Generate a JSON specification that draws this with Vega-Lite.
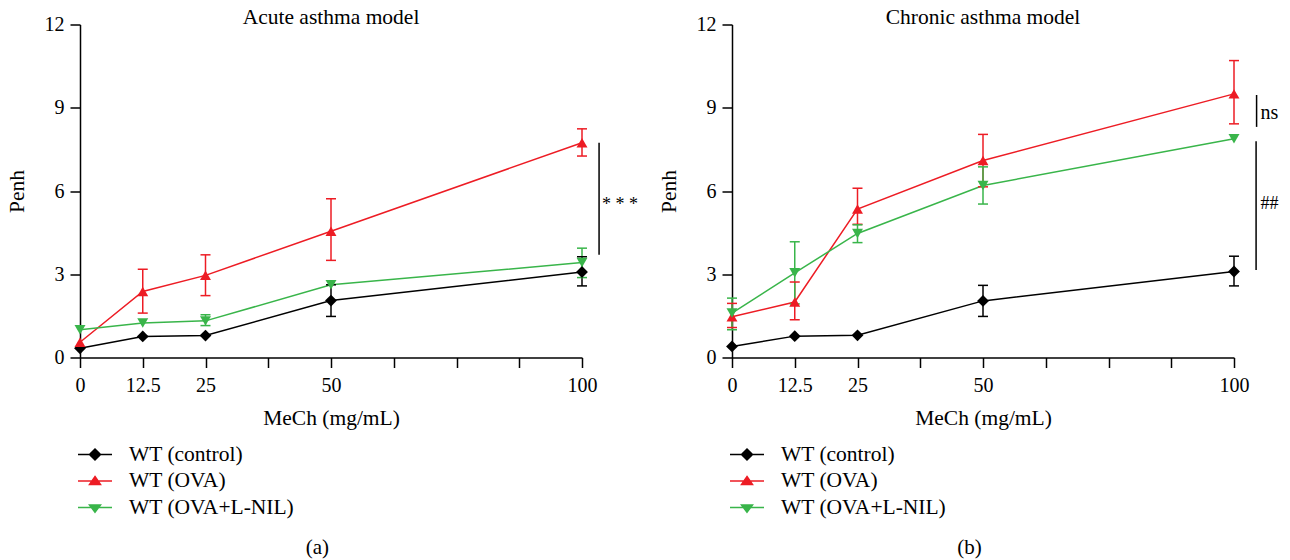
{
  "$schema": "https://vega.github.io/schema/vega-lite/v6.json",
  "background": "white",
  "padding": {"left": 6, "top": 6.5, "right": 5, "bottom": 5},
  "config": {
    "font": "Liberation Serif",
    "view": {"stroke": null},
    "axis": {"labelFont": "Liberation Serif", "titleFont": "Liberation Serif", "labelFontSize": 20, "titleFontSize": 21.5, "titleFontWeight": "normal", "labelColor": "black", "titleColor": "black", "domainColor": "black", "tickColor": "black", "domainWidth": 1.5, "tickWidth": 1.5, "tickSize": 10, "grid": false},
    "title": {"font": "Liberation Serif", "fontSize": 21.5, "fontWeight": "normal", "color": "black", "offset": -14},
    "text": {"font": "Liberation Serif"}
  },
  "datasets": {
    "d": [
      {"panel": "a", "group": "WT (control)", "dose": 0, "mean": 0.33, "lo": null, "hi": null},
      {"panel": "a", "group": "WT (control)", "dose": 12.5, "mean": 0.76, "lo": null, "hi": null},
      {"panel": "a", "group": "WT (control)", "dose": 25, "mean": 0.79, "lo": null, "hi": null},
      {"panel": "a", "group": "WT (control)", "dose": 50, "mean": 2.05, "lo": 1.48, "hi": 2.62},
      {"panel": "a", "group": "WT (control)", "dose": 100, "mean": 3.08, "lo": 2.58, "hi": 3.63},
      {"panel": "a", "group": "WT (OVA)", "dose": 0, "mean": 0.55, "lo": null, "hi": null},
      {"panel": "a", "group": "WT (OVA)", "dose": 12.5, "mean": 2.38, "lo": 1.6, "hi": 3.18},
      {"panel": "a", "group": "WT (OVA)", "dose": 25, "mean": 2.96, "lo": 2.23, "hi": 3.7},
      {"panel": "a", "group": "WT (OVA)", "dose": 50, "mean": 4.55, "lo": 3.5, "hi": 5.72},
      {"panel": "a", "group": "WT (OVA)", "dose": 100, "mean": 7.74, "lo": 7.26, "hi": 8.24},
      {"panel": "a", "group": "WT (OVA+L-NIL)", "dose": 0, "mean": 1.0, "lo": null, "hi": null},
      {"panel": "a", "group": "WT (OVA+L-NIL)", "dose": 12.5, "mean": 1.24, "lo": null, "hi": null},
      {"panel": "a", "group": "WT (OVA+L-NIL)", "dose": 25, "mean": 1.32, "lo": 1.15, "hi": 1.54},
      {"panel": "a", "group": "WT (OVA+L-NIL)", "dose": 50, "mean": 2.62, "lo": null, "hi": null},
      {"panel": "a", "group": "WT (OVA+L-NIL)", "dose": 100, "mean": 3.42, "lo": 2.88, "hi": 3.94},
      {"panel": "b", "group": "WT (control)", "dose": 0, "mean": 0.4, "lo": null, "hi": null},
      {"panel": "b", "group": "WT (control)", "dose": 12.5, "mean": 0.77, "lo": null, "hi": null},
      {"panel": "b", "group": "WT (control)", "dose": 25, "mean": 0.8, "lo": null, "hi": null},
      {"panel": "b", "group": "WT (control)", "dose": 50, "mean": 2.04, "lo": 1.48, "hi": 2.6},
      {"panel": "b", "group": "WT (control)", "dose": 100, "mean": 3.1, "lo": 2.58, "hi": 3.65},
      {"panel": "b", "group": "WT (OVA)", "dose": 0, "mean": 1.47, "lo": 1.08, "hi": 1.95},
      {"panel": "b", "group": "WT (OVA)", "dose": 12.5, "mean": 2.0, "lo": 1.36, "hi": 2.72},
      {"panel": "b", "group": "WT (OVA)", "dose": 25, "mean": 5.35, "lo": 4.8, "hi": 6.1},
      {"panel": "b", "group": "WT (OVA)", "dose": 50, "mean": 7.1, "lo": 6.15, "hi": 8.04},
      {"panel": "b", "group": "WT (OVA)", "dose": 100, "mean": 9.5, "lo": 8.42, "hi": 10.7},
      {"panel": "b", "group": "WT (OVA+L-NIL)", "dose": 0, "mean": 1.6, "lo": 1.0, "hi": 2.14},
      {"panel": "b", "group": "WT (OVA+L-NIL)", "dose": 12.5, "mean": 3.05, "lo": 1.93, "hi": 4.17},
      {"panel": "b", "group": "WT (OVA+L-NIL)", "dose": 25, "mean": 4.47, "lo": 4.14, "hi": 4.78},
      {"panel": "b", "group": "WT (OVA+L-NIL)", "dose": 50, "mean": 6.2, "lo": 5.53, "hi": 6.87},
      {"panel": "b", "group": "WT (OVA+L-NIL)", "dose": 100, "mean": 7.88, "lo": null, "hi": null}
    ],
    "ann": [
      {"panel": "a", "dose": 103.4, "y1": 7.74, "y2": 3.7, "tx": 104.0, "ty": 5.33, "label": "* * *", "fs": 18},
      {"panel": "b", "dose": 104.5, "y1": 9.46, "y2": 8.31, "tx": 105.3, "ty": 8.58, "label": "ns", "fs": 20},
      {"panel": "b", "dose": 104.4, "y1": 7.79, "y2": 3.15, "tx": 105.3, "ty": 5.34, "label": "##", "fs": 18}
    ],
    "cap": [
      {"panel": "a", "dose": 47.3, "y": -6.85, "label": "(a)"},
      {"panel": "b", "dose": 47.3, "y": -6.85, "label": "(b)"}
    ]
  },
  "spacing": 19,
  "resolve": {"scale": {"color": "independent"}, "legend": {"color": "independent"}},
  "hconcat": [
    {
      "width": 502, "height": 333,
      "title": "Acute asthma model",
      "encoding": {
        "x": {"field": "dose", "type": "quantitative", "title": "MeCh (mg/mL)", "scale": {"domain": [0, 100], "nice": false}, "axis": {"values": [0, 12.5, 25, 37.5, 50, 62.5, 75, 87.5, 100], "labelExpr": "indexof([0, 12.5, 25, 50, 100], datum.value) >= 0 ? toString(datum.value) : ''", "labelPadding": 8, "titlePadding": 12, "labelFlush": false}},
        "y": {"field": "mean", "type": "quantitative", "title": "Penh", "scale": {"domain": [0, 12], "nice": false}, "axis": {"values": [0, 3, 6, 9, 12], "labelPadding": 6, "titlePadding": 16}},
        "color": {"field": "group", "type": "nominal", "scale": {"domain": ["WT (control)", "WT (OVA)", "WT (OVA+L-NIL)"], "range": ["#000000", "#ed1c24", "#39b54a"]},
          "legend": {"title": null, "orient": "none", "legendX": 4, "legendY": 419, "symbolSize": 400, "symbolStrokeWidth": 1.5, "labelFont": "Liberation Serif", "labelFontSize": 21.5, "labelColor": "black", "labelOffset": 23, "rowPadding": 4.5, "padding": 0, "labelLimit": 400,
            "encode": {"symbols": {"update": {
              "shape": {"signal": "datum.value === 'WT (control)' ? 'M-1.7,0H1.7M0,-0.55L0.55,0L0,0.55L-0.55,0Z' : datum.value === 'WT (OVA)' ? 'M-1.7,0H1.7M0,-0.45L0.55,0.36L-0.55,0.36Z' : 'M-1.7,0H1.7M-0.55,-0.26L0.55,-0.26L0,0.48Z'"},
              "fill": {"signal": "datum.value === 'WT (control)' ? '#000000' : datum.value === 'WT (OVA)' ? '#ed1c24' : '#39b54a'"},
              "stroke": {"signal": "datum.value === 'WT (control)' ? '#000000' : datum.value === 'WT (OVA)' ? '#ed1c24' : '#39b54a'"},
              "strokeWidth": {"value": 1.5}, "opacity": {"value": 1}, "fillOpacity": {"value": 1}, "strokeOpacity": {"value": 1}}}}}}
      },
      "layer": [
        {"data": {"name": "d"}, "transform": [{"filter": "datum.panel == 'a'"}], "mark": {"type": "line", "strokeWidth": 1.5}},
        {"data": {"name": "d"}, "transform": [{"filter": "datum.panel == 'a' && isValid(datum.lo)"}], "mark": {"type": "rule", "strokeWidth": 1.5},
          "encoding": {"y": {"field": "lo", "type": "quantitative", "title": "Penh"}, "y2": {"field": "hi"}}},
        {"data": {"name": "d"}, "transform": [{"filter": "datum.panel == 'a' && isValid(datum.lo)"}], "mark": {"type": "point", "shape": "M-1,0H1", "size": 100, "filled": false, "strokeWidth": 1.5, "opacity": 1},
          "encoding": {"y": {"field": "lo", "type": "quantitative", "title": "Penh"}}},
        {"data": {"name": "d"}, "transform": [{"filter": "datum.panel == 'a' && isValid(datum.lo)"}], "mark": {"type": "point", "shape": "M-1,0H1", "size": 100, "filled": false, "strokeWidth": 1.5, "opacity": 1},
          "encoding": {"y": {"field": "hi", "type": "quantitative", "title": "Penh"}}},
        {"data": {"name": "d"}, "transform": [{"filter": "datum.panel == 'a' && datum.group == 'WT (control)'"}], "mark": {"type": "point", "shape": "diamond", "filled": true, "size": 140, "opacity": 1}},
        {"data": {"name": "d"}, "transform": [{"filter": "datum.panel == 'a' && datum.group == 'WT (OVA)'"}], "mark": {"type": "point", "shape": "triangle-up", "filled": true, "size": 120, "opacity": 1}},
        {"data": {"name": "d"}, "transform": [{"filter": "datum.panel == 'a' && datum.group == 'WT (OVA+L-NIL)'"}], "mark": {"type": "point", "shape": "triangle-down", "filled": true, "size": 120, "opacity": 1}},
        {"data": {"name": "ann"}, "transform": [{"filter": "datum.panel == 'a'"}], "mark": {"type": "rule", "strokeWidth": 1.5, "color": "black"},
          "encoding": {"y": {"field": "y1", "type": "quantitative", "title": "Penh"}, "y2": {"field": "y2"}, "color": {"value": "black"}}},
        {"data": {"name": "ann"}, "transform": [{"filter": "datum.panel == 'a'"}], "mark": {"type": "text", "align": "left", "baseline": "alphabetic", "fontSize": 18, "color": "black"},
          "encoding": {"x": {"field": "tx", "type": "quantitative", "title": "MeCh (mg/mL)"}, "y": {"field": "ty", "type": "quantitative", "title": "Penh"}, "text": {"field": "label"}, "color": {"value": "black"}}},
        {"data": {"name": "cap"}, "transform": [{"filter": "datum.panel == 'a'"}], "mark": {"type": "text", "align": "center", "baseline": "middle", "fontSize": 21, "color": "black"},
          "encoding": {"y": {"field": "y", "type": "quantitative", "title": "Penh"}, "text": {"field": "label"}, "color": {"value": "black"}}}
      ]
    },
    {
      "width": 502, "height": 333,
      "title": "Chronic asthma model",
      "encoding": {
        "x": {"field": "dose", "type": "quantitative", "title": "MeCh (mg/mL)", "scale": {"domain": [0, 100], "nice": false}, "axis": {"values": [0, 12.5, 25, 37.5, 50, 62.5, 75, 87.5, 100], "labelExpr": "indexof([0, 12.5, 25, 50, 100], datum.value) >= 0 ? toString(datum.value) : ''", "labelPadding": 8, "titlePadding": 12, "labelFlush": false}},
        "y": {"field": "mean", "type": "quantitative", "title": "Penh", "scale": {"domain": [0, 12], "nice": false}, "axis": {"values": [0, 3, 6, 9, 12], "labelPadding": 6, "titlePadding": 16}},
        "color": {"field": "group", "type": "nominal", "scale": {"domain": ["WT (control)", "WT (OVA)", "WT (OVA+L-NIL)"], "range": ["#000000", "#ed1c24", "#39b54a"]},
          "legend": {"title": null, "orient": "none", "legendX": 4, "legendY": 419, "symbolSize": 400, "symbolStrokeWidth": 1.5, "labelFont": "Liberation Serif", "labelFontSize": 21.5, "labelColor": "black", "labelOffset": 23, "rowPadding": 4.5, "padding": 0, "labelLimit": 400,
            "encode": {"symbols": {"update": {
              "shape": {"signal": "datum.value === 'WT (control)' ? 'M-1.7,0H1.7M0,-0.55L0.55,0L0,0.55L-0.55,0Z' : datum.value === 'WT (OVA)' ? 'M-1.7,0H1.7M0,-0.45L0.55,0.36L-0.55,0.36Z' : 'M-1.7,0H1.7M-0.55,-0.26L0.55,-0.26L0,0.48Z'"},
              "fill": {"signal": "datum.value === 'WT (control)' ? '#000000' : datum.value === 'WT (OVA)' ? '#ed1c24' : '#39b54a'"},
              "stroke": {"signal": "datum.value === 'WT (control)' ? '#000000' : datum.value === 'WT (OVA)' ? '#ed1c24' : '#39b54a'"},
              "strokeWidth": {"value": 1.5}, "opacity": {"value": 1}, "fillOpacity": {"value": 1}, "strokeOpacity": {"value": 1}}}}}}
      },
      "layer": [
        {"data": {"name": "d"}, "transform": [{"filter": "datum.panel == 'b'"}], "mark": {"type": "line", "strokeWidth": 1.5}},
        {"data": {"name": "d"}, "transform": [{"filter": "datum.panel == 'b' && isValid(datum.lo)"}], "mark": {"type": "rule", "strokeWidth": 1.5},
          "encoding": {"y": {"field": "lo", "type": "quantitative", "title": "Penh"}, "y2": {"field": "hi"}}},
        {"data": {"name": "d"}, "transform": [{"filter": "datum.panel == 'b' && isValid(datum.lo)"}], "mark": {"type": "point", "shape": "M-1,0H1", "size": 100, "filled": false, "strokeWidth": 1.5, "opacity": 1},
          "encoding": {"y": {"field": "lo", "type": "quantitative", "title": "Penh"}}},
        {"data": {"name": "d"}, "transform": [{"filter": "datum.panel == 'b' && isValid(datum.lo)"}], "mark": {"type": "point", "shape": "M-1,0H1", "size": 100, "filled": false, "strokeWidth": 1.5, "opacity": 1},
          "encoding": {"y": {"field": "hi", "type": "quantitative", "title": "Penh"}}},
        {"data": {"name": "d"}, "transform": [{"filter": "datum.panel == 'b' && datum.group == 'WT (control)'"}], "mark": {"type": "point", "shape": "diamond", "filled": true, "size": 140, "opacity": 1}},
        {"data": {"name": "d"}, "transform": [{"filter": "datum.panel == 'b' && datum.group == 'WT (OVA)'"}], "mark": {"type": "point", "shape": "triangle-up", "filled": true, "size": 120, "opacity": 1}},
        {"data": {"name": "d"}, "transform": [{"filter": "datum.panel == 'b' && datum.group == 'WT (OVA+L-NIL)'"}], "mark": {"type": "point", "shape": "triangle-down", "filled": true, "size": 120, "opacity": 1}},
        {"data": {"name": "ann"}, "transform": [{"filter": "datum.panel == 'b'"}], "mark": {"type": "rule", "strokeWidth": 1.5, "color": "black"},
          "encoding": {"y": {"field": "y1", "type": "quantitative", "title": "Penh"}, "y2": {"field": "y2"}, "color": {"value": "black"}}},
        {"data": {"name": "ann"}, "transform": [{"filter": "datum.panel == 'b'"}], "mark": {"type": "text", "align": "left", "baseline": "alphabetic", "color": "black"},
          "encoding": {"x": {"field": "tx", "type": "quantitative", "title": "MeCh (mg/mL)"}, "y": {"field": "ty", "type": "quantitative", "title": "Penh"}, "text": {"field": "label"}, "size": {"field": "fs", "type": "quantitative", "scale": null}, "color": {"value": "black"}}},
        {"data": {"name": "cap"}, "transform": [{"filter": "datum.panel == 'b'"}], "mark": {"type": "text", "align": "center", "baseline": "middle", "fontSize": 21, "color": "black"},
          "encoding": {"y": {"field": "y", "type": "quantitative", "title": "Penh"}, "text": {"field": "label"}, "color": {"value": "black"}}}
      ]
    }
  ]
}
